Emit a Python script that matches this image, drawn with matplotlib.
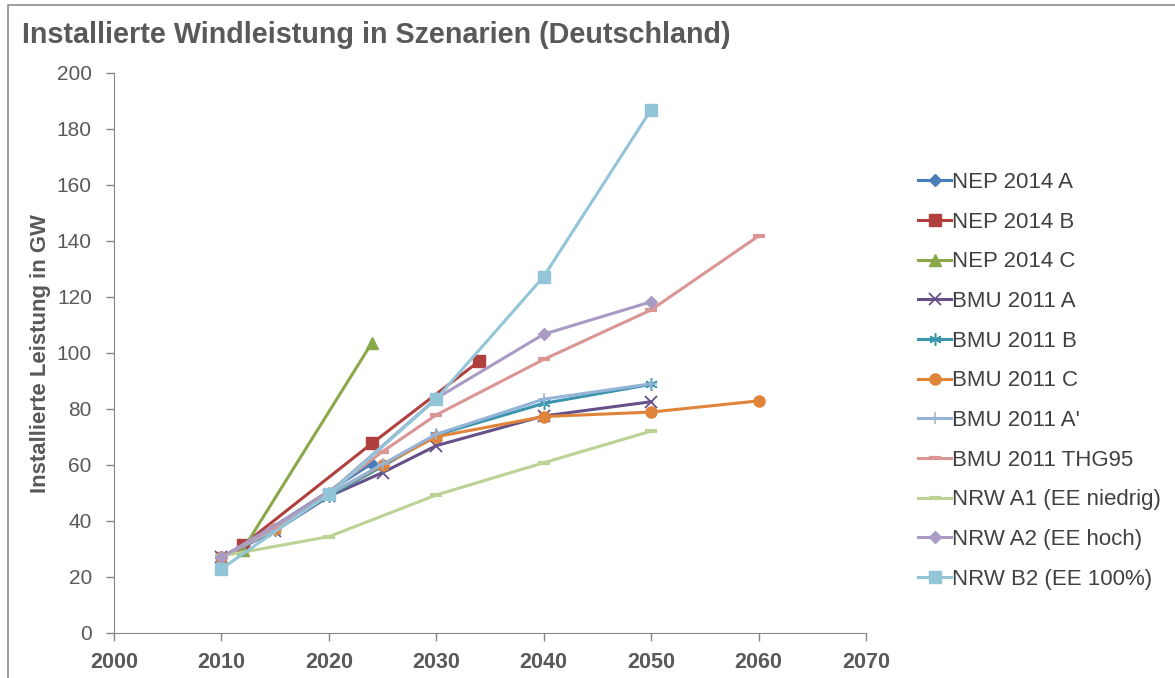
import matplotlib
matplotlib.use('Agg')
import matplotlib.pyplot as plt
from matplotlib.lines import Line2D

plt.rcParams['font.family'] = ['Liberation Sans', 'DejaVu Sans']

# Szenarien: Jahre und installierte Leistung in GW
nep_a_years = [2012, 2024]
nep_a_vals = [31, 60.5]
nep_b_years = [2012, 2024, 2034]
nep_b_vals = [31.4, 67.7, 97.1]
nep_c_years = [2012, 2024]
nep_c_vals = [29.8, 103.6]

bmu_years = [2010, 2015, 2020, 2025, 2030, 2040, 2050]
bmu_a_vals = [27, 36.5, 48.8, 57.3, 66.9, 77.5, 82.6]
bmu_b_vals = [27, 36.8, 49.0, 59.5, 70.7, 82.0, 88.8]
bmu_c_years = [2010, 2015, 2020, 2025, 2030, 2040, 2050, 2060]
bmu_c_vals = [27, 37.0, 49.5, 60.0, 70.1, 77.3, 78.9, 82.9]
bmu_a2_vals = [27, 37.0, 49.5, 60.3, 71.0, 83.5, 89.0]
bmu_thg_years = [2010, 2015, 2020, 2025, 2030, 2040, 2050, 2060]
bmu_thg_vals = [27, 38.0, 50.5, 64.8, 77.9, 97.7, 115.4, 141.8]

nrw_years = [2010, 2020, 2030, 2040, 2050]
nrw_a1_vals = [27.5, 34.4, 49.3, 60.8, 72.1]
nrw_a2_vals = [27, 50.0, 83.8, 106.7, 118.3]
nrw_b2_vals = [22.9, 49.6, 83.6, 127.3, 186.9]

W, H = 1175, 678
fig = plt.figure(figsize=(W / 100, H / 100), dpi=100)
ax = fig.add_axes([114 / W, 1 - 633 / H, (866 - 114) / W, (633 - 73) / H])

lw = 2.2
ax.plot(nep_a_years, nep_a_vals, color='#4a7ebb', lw=lw, marker='D', ms=6, label='NEP 2014 A')
ax.plot(nep_b_years, nep_b_vals, color='#b0403d', lw=lw, marker='s', ms=8, label='NEP 2014 B')
ax.plot(nep_c_years, nep_c_vals, color='#8aa84a', lw=lw, marker='^', ms=8, label='NEP 2014 C')
ax.plot(bmu_years, bmu_a_vals, color='#65508a', lw=lw, marker='x', ms=8, mew=1.3, label='BMU 2011 A')
ax.plot(bmu_years, bmu_b_vals, color='#3b96ad', lw=lw, marker=(6, 2, 0), ms=9, mew=1.1, label='BMU 2011 B')
ax.plot(bmu_c_years, bmu_c_vals, color='#e0843a', lw=lw, marker='o', ms=8, label='BMU 2011 C')
ax.plot(bmu_years, bmu_a2_vals, color='#95b3d7', lw=lw, marker='+', ms=9, mew=1.1, label="BMU 2011 A'")
ax.plot(bmu_thg_years, bmu_thg_vals, color='#d99694', lw=lw, marker='_', ms=8, mew=3, label='BMU 2011 THG95')
ax.plot(nrw_years, nrw_a1_vals, color='#bcd295', lw=lw, marker='_', ms=8, mew=3, label='NRW A1 (EE niedrig)')
ax.plot(nrw_years, nrw_a2_vals, color='#a99bc4', lw=lw, marker='D', ms=6, label='NRW A2 (EE hoch)')
ax.plot(nrw_years, nrw_b2_vals, color='#92c5d8', lw=lw, marker='s', ms=8, label='NRW B2 (EE 100%)')

ax.set_xlim(2000, 2070)
ax.set_ylim(0, 200)
ax.set_xticks(range(2000, 2071, 10))
ax.set_yticks(range(0, 201, 20))
for s in ['top', 'right']:
    ax.spines[s].set_visible(False)
for s in ['left', 'bottom']:
    ax.spines[s].set_color('#868686')
ax.tick_params(colors='#868686', length=6, width=1)
ax.tick_params(axis='x', pad=8)
ax.tick_params(axis='y', pad=10)
for lab in ax.get_xticklabels():
    lab.set_color('#595959')
    lab.set_fontsize(15.5)
    lab.set_fontweight('bold')
for lab in ax.get_yticklabels():
    lab.set_color('#595959')
    lab.set_fontsize(15)

fig.text(41 / W, 1 - 354 / H, 'Installierte Leistung in GW', rotation=90, fontsize=15.9,
         fontweight='bold', color='#595959', ha='center', va='center')

fig.text(22 / W, 1 - 35 / H, 'Installierte Windleistung in Szenarien (Deutschland)',
         fontsize=20.7, fontweight='bold', color='#595959', va='center')

leg = ax.legend(loc='upper left', bbox_to_anchor=(918 / W, 1 - 172 / H), bbox_transform=fig.transFigure,
                frameon=False, fontsize=16, labelspacing=0.84, handlelength=1.5, handletextpad=0.05,
                borderaxespad=0, borderpad=0)
for t in leg.get_texts():
    t.set_color('#404040')

# Rahmen des Diagramms (nur links und oben sichtbar)
fig.add_artist(Line2D([8 / W, 8 / W, 1], [0, 1 - 5 / H, 1 - 5 / H], transform=fig.transFigure,
                      color='#8c8c8c', lw=1.2))

fig.savefig('out.png', dpi=100)
